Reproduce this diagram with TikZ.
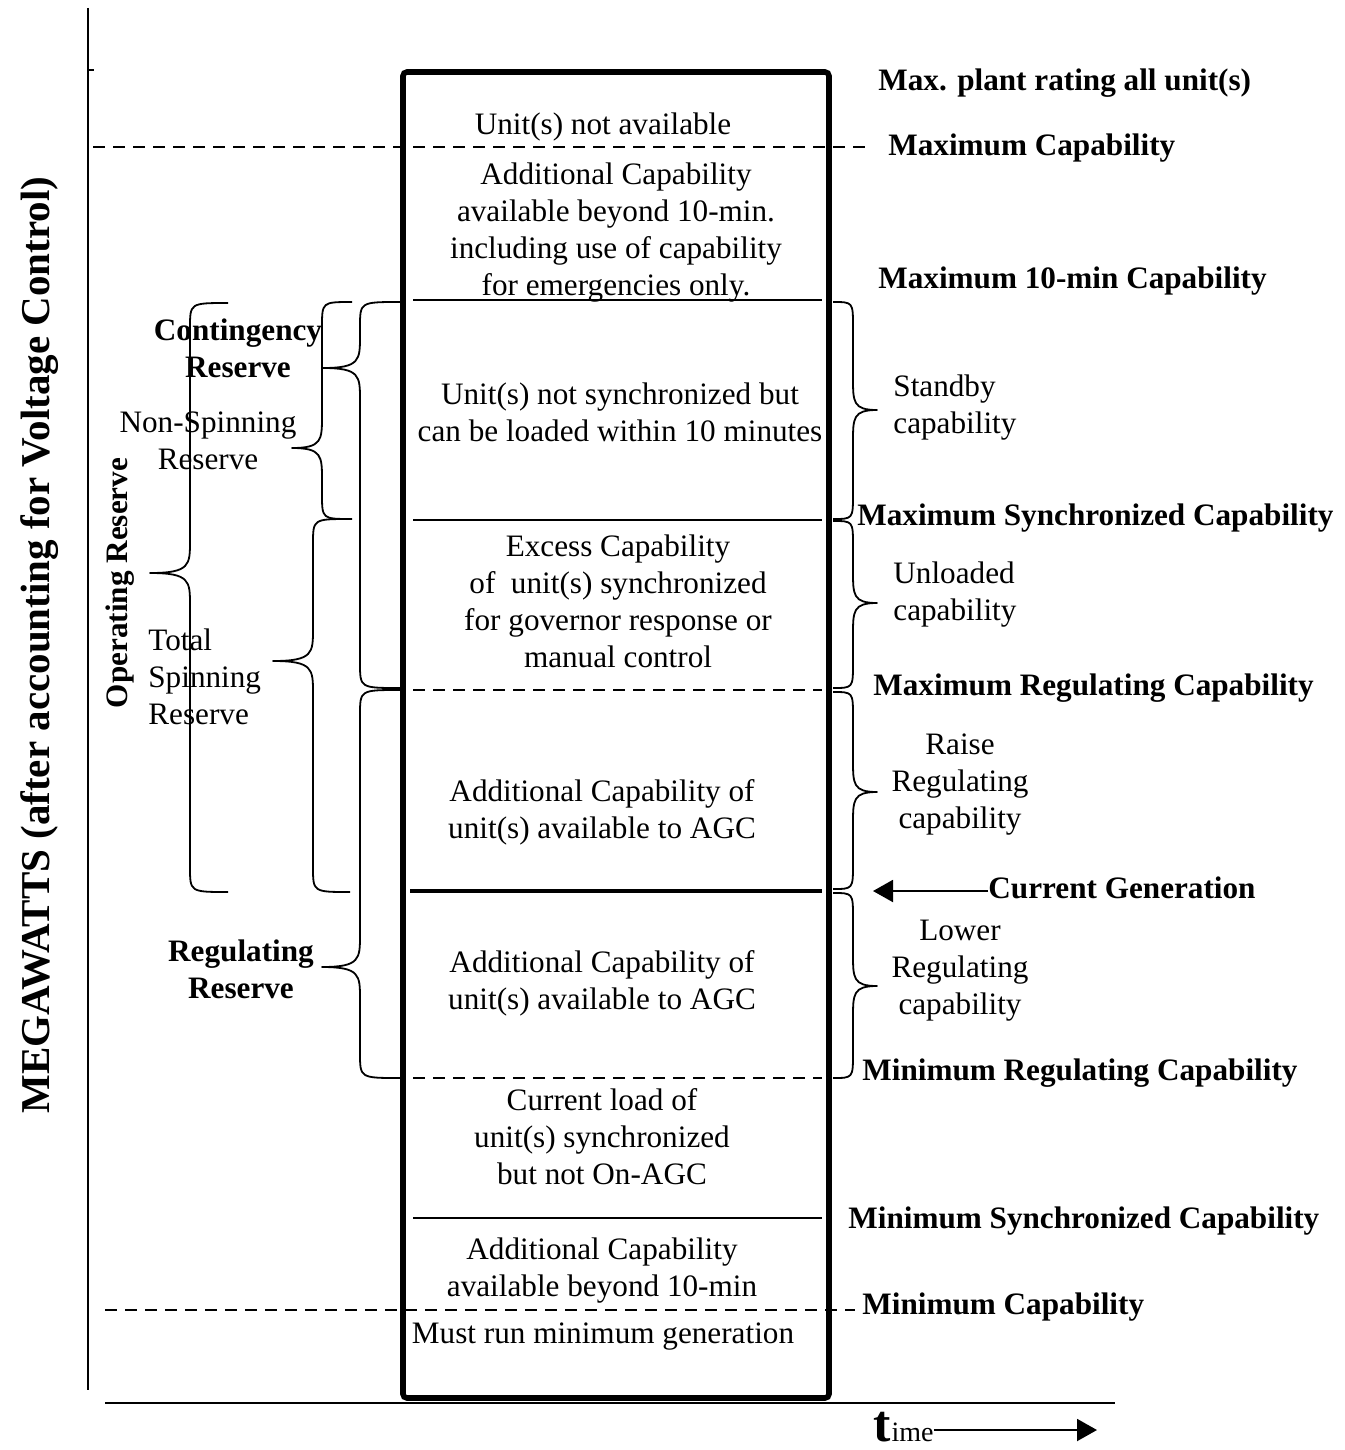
\documentclass[tikz,border=0pt]{standalone}
\usepackage{fontspec}
\setmainfont{Liberation Serif}
\usetikzlibrary{arrows.meta}

\tikzstyle{boxtext}=[align=center, inner sep=0pt, yshift=-1.5pt, font=\fontsize{15.6}{18.5}\selectfont]
\tikzstyle{sidetext}=[align=center, inner sep=0pt, yshift=-1.5pt, font=\fontsize{15.6}{18.5}\selectfont\bfseries]
\tikzstyle{ratinglabel}=[anchor=west, inner sep=0pt, yshift=-1.5pt, font=\fontsize{15.6}{18.5}\selectfont\bfseries]
\tikzstyle{curly}=[draw, line width=0.9pt, line join=round]
\tikzstyle{divider}=[draw, line width=1pt]
\tikzstyle{dashdiv}=[draw, line width=1pt, dash pattern=on 6pt off 4pt]
\tikzstyle{pointer}=[draw, line width=1pt, -{Triangle[length=10pt,width=11pt]}]
% end x, bend x, tip x, top y, tip y, bottom y
\newcommand{\capbrace}[6]{%
    \path[curly] (#1,#4) .. controls (#2,#4) .. (#2,#4+25) -- (#2,#5-32)
        .. controls (#2,#5-8) and (#2,#5) .. (#3,#5) .. controls (#2,#5) and (#2,#5+8) .. (#2,#5+32)
        -- (#2,#6-25) .. controls (#2,#6) .. (#1,#6);}

\begin{document}
\begin{tikzpicture}[x=0.5pt, y=-0.5pt]
    \useasboundingbox (0,0) rectangle (1344,1450);
    % axes
    \draw[line width=1pt] (88,8) -- (88,1390);
    \draw[line width=1pt] (88,70) -- (94,70);
    \draw[line width=1pt] (105,1403) -- (1115,1403);
    \node[sidetext, rotate=90, font=\fontsize{20.5}{24}\selectfont\bfseries] (megawatts) at (40,642) {MEGAWATTS (after accounting for Voltage Control)};
    % the unit column and its levels
    \draw[line width=2.8pt, rounded corners=2pt] (403,72) rectangle (829,1398);
    \path[dashdiv] (93,147) -- (865,147);
    \path[divider] (413,300) -- (822,300);
    \path[divider] (413,520) -- (822,520);
    \path[dashdiv] (413,690) -- (822,690);
    \path[divider, line width=2pt] (410,891) -- (822,891);
    \path[dashdiv] (413,1078) -- (822,1078);
    \path[divider] (413,1218) -- (822,1218);
    \path[dashdiv] (105,1310) -- (855,1310);
    % texts in the column
    \node[boxtext] (unavail) at (603,124) {Unit(s) not available};
    \node[boxtext] (beyond) at (616,230) {Additional Capability\\available beyond 10-min.\\including use of capability\\for emergencies only.};
    \node[boxtext] (notsync) at (620,409) {Unit(s) not synchronized but\\can be loaded within 10 minutes};
    \node[boxtext] (excess) at (618,598) {Excess Capability\\of \ unit(s) synchronized\\for governor response or\\manual control};
    \node[boxtext] (agcup) at (602,809) {Additional Capability of\\unit(s) available to AGC};
    \node[boxtext] (agcdown) at (602,980) {Additional Capability of\\unit(s) available to AGC};
    \node[boxtext] (curload) at (602,1134) {Current load of\\unit(s) synchronized\\but not On-AGC};
    \node[boxtext] (beyondmin) at (602,1268) {Additional Capability\\available beyond 10-min};
    \node[boxtext] (mustrun) at (603,1334) {Must run minimum generation};
    % level names on the right
    \node[ratinglabel] (plantmax) at (878,80) {Max. plant rating all unit(s)};
    \node[ratinglabel] (maxcap) at (888,145) {Maximum Capability};
    \node[ratinglabel] (max10) at (878,278) {Maximum 10-min Capability};
    \node[ratinglabel] (maxsync) at (857,515) {Maximum Synchronized Capability};
    \node[ratinglabel] (maxreg) at (873,685) {Maximum Regulating Capability};
    \node[ratinglabel] (curgen) at (988,885) {Current Generation};
    \node[ratinglabel] (minreg) at (862,1070) {Minimum Regulating Capability};
    \node[ratinglabel] (minsync) at (848,1218) {Minimum Synchronized Capability};
    \node[ratinglabel] (mincap) at (862,1304) {Minimum Capability};
    \coordinate (gentip) at (873,891);
    \path[pointer] (curgen.west |- gentip) -- (gentip);
    % right braces
    \capbrace{833}{853}{877}{302}{410}{519}
    \capbrace{833}{853}{877}{521}{603}{688}
    \capbrace{833}{853}{877}{692}{792}{889}
    \capbrace{833}{853}{877}{893}{986}{1078}
    \node[boxtext, align=left, anchor=west] (standby) at (893,405) {Standby\\capability};
    \node[boxtext, align=left, anchor=west] (unloaded) at (893,592) {Unloaded\\capability};
    \node[boxtext] (raise) at (960,782) {Raise\\Regulating\\capability};
    \node[boxtext] (lower) at (960,968) {Lower\\Regulating\\capability};
    % left braces
    \capbrace{400}{360}{323}{302}{368}{688}
    \capbrace{352}{322}{292}{302}{448}{519}
    \capbrace{350}{313}{273}{519}{661}{892}
    \capbrace{228}{190}{150}{303}{573}{892}
    \capbrace{400}{360}{322}{690}{967}{1078}
    \node[sidetext] (contingency) at (238,345) {Contingency\\Reserve};
    \node[boxtext] (nonspin) at (208,438) {Non-Spinning\\Reserve};
    \node[boxtext, align=left, anchor=west] (totspin) at (148,674) {Total\\Spinning\\Reserve};
    \node[sidetext] (regres) at (241,966) {Regulating\\Reserve};
    \node[sidetext, rotate=90] (opres) at (120,580) {Operating Reserve};
    % time
    \node[inner sep=0pt, anchor=base west, font=\fontsize{26}{28}\selectfont\bfseries] (tbig) at (873,1441) {t};
    \node[inner sep=0pt, anchor=base west, font=\fontsize{14}{16}\selectfont] (tsmall) at (tbig.base east) {ime};
    \coordinate (timetip) at (1097,1430);
    \path[pointer] (tsmall.east |- timetip) -- (timetip);
\end{tikzpicture}
\end{document}
